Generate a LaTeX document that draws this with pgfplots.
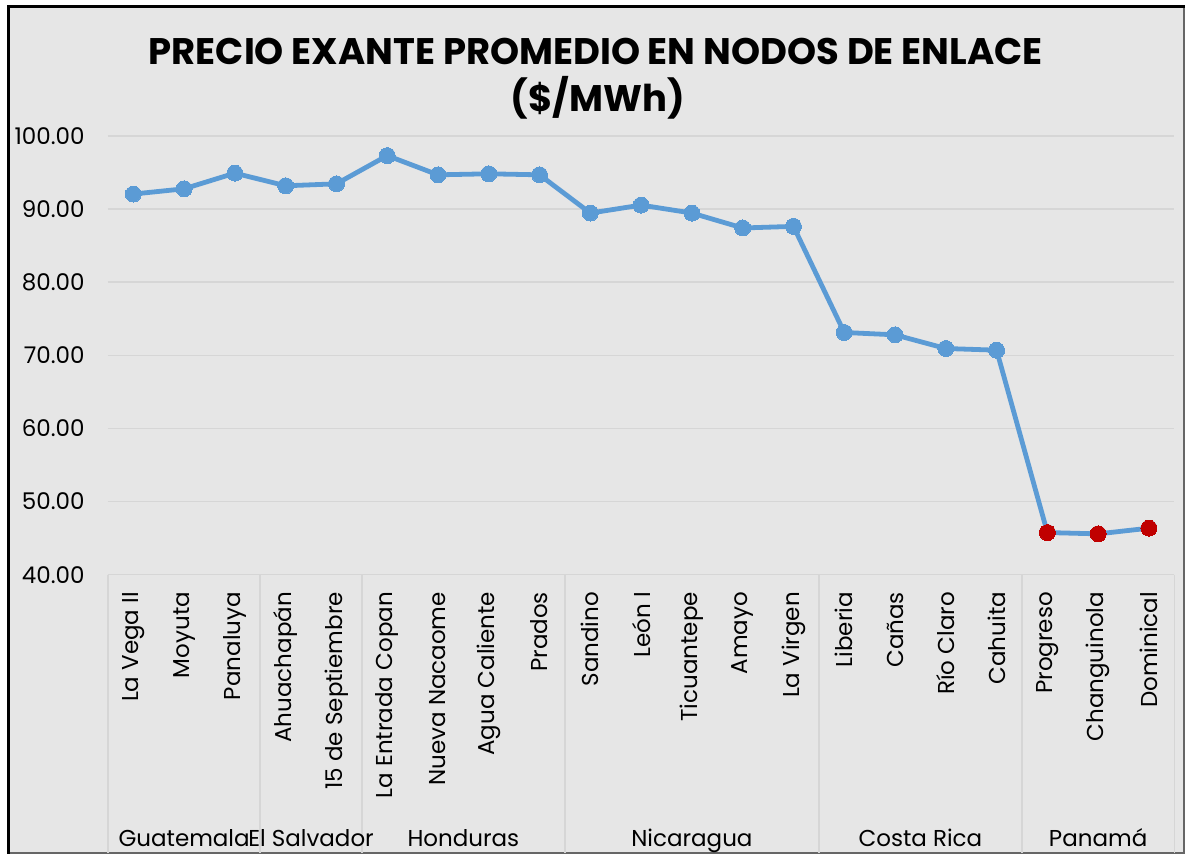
\documentclass[border=0pt]{standalone}
\usepackage{pgfplots}
\usepackage{fontspec}
\setmainfont{Poppins}
\pgfplotsset{compat=1.18}
\definecolor{bgcol}{HTML}{E6E6E6}
\definecolor{gridcol}{HTML}{D6D6D6}
\definecolor{lineblue}{HTML}{5B9BD5}
\definecolor{ptred}{HTML}{C00000}
\begin{document}
\begin{tikzpicture}
% chart area (1px = 0.5pt, origin top-left)
\fill[white] (0,0) rectangle (593pt,-427pt);
\fill[bgcol] (4.25pt,-3.25pt) rectangle (592.5pt,-426.7pt);
\draw[gray!80!black,line width=0.6pt] (592.3pt,-3.25pt) -- (592.3pt,-426.7pt) -- (4.25pt,-426.7pt);
\draw[black,line width=1.5pt] (4.25pt,-427pt) -- (4.25pt,-3.25pt) -- (592.6pt,-3.25pt);
\node[anchor=base,font=\fontsize{18.5}{22}\selectfont\bfseries] at (298pt,-32.15pt) {PRECIO EXANTE PROMEDIO EN NODOS DE ENLACE};
\node[anchor=base,font=\fontsize{18.5}{22}\selectfont\bfseries] at (299pt,-55.85pt) {(\$/MWh)};
\begin{axis}[
  at={(54pt,-287.5pt)},anchor=south west,
  scale only axis,width=533.5pt,height=219.5pt,
  xmin=-0.5,xmax=20.5,ymin=40,ymax=100,
  clip=false,
  axis line style={draw=none},
  major tick length=0pt,
  ymajorgrids,grid style={gridcol,line width=0.8pt},
  ytick={40,50,...,100},
  /pgf/number format/fixed,
  /pgf/number format/fixed zerofill,
  /pgf/number format/precision=2,
  /pgf/number format/assume math mode=true,
  yticklabel shift=11.5pt,
  xtick={0,...,20},
  xticklabels={La Vega II,Moyuta,Panaluya,Ahuachapán,15 de Septiembre,La Entrada Copan,Nueva Nacaome,Agua Caliente,Prados,Sandino,León I,Ticuantepe,Amayo,La Virgen,Liberia,Cañas,Río Claro,Cahuita,Progreso,Changuinola,Dominical},
  xticklabel style={rotate=90,anchor=east,inner sep=0pt},
  xticklabel shift=8.5pt,
  tick label style={font=\fontsize{11.5}{13}\selectfont},
  y tick label style={inner sep=0pt},
]
\addplot[lineblue,line width=2.4pt,mark=*,mark size=4pt,mark options={fill=lineblue,draw=lineblue,line width=0pt}] coordinates {
(0,92.05) (1,92.77) (2,94.91) (3,93.18) (4,93.45) (5,97.31) (6,94.68) (7,94.82) (8,94.68)
(9,89.45) (10,90.54) (11,89.45) (12,87.41) (13,87.63)
(14,73.12) (15,72.80) (16,70.93) (17,70.70)
(18,45.76) (19,45.58) (20,46.36)
};
\addplot[only marks,mark=*,mark size=4pt,mark options={fill=ptred,draw=ptred,line width=0pt}] coordinates {
(18,45.76) (19,45.58) (20,46.36)
};
% group separators and country labels
\pgfplotsinvokeforeach{-0.5,2.5,4.5,8.5,13.5,17.5,20.5}{
  \draw[gridcol,line width=0.8pt] (axis cs:#1,40) -- ++(0pt,-139pt);
}
\draw[gridcol,line width=0.8pt] (axis cs:-0.5,40) -- (axis cs:20.5,40);
\tikzset{grp/.style={anchor=base,inner sep=0pt,font=\fontsize{11.5}{13}\selectfont}}
\node[grp] at ([yshift=-136pt]axis cs:1,40) {Guatemala};
\node[grp] at ([yshift=-136pt]axis cs:3.5,40) {El Salvador};
\node[grp] at ([yshift=-136pt]axis cs:6.5,40) {Honduras};
\node[grp] at ([yshift=-136pt]axis cs:11,40) {Nicaragua};
\node[grp] at ([yshift=-136pt]axis cs:15.5,40) {Costa Rica};
\node[grp] at ([yshift=-136pt]axis cs:19,40) {Panamá};
\end{axis}
\end{tikzpicture}
\end{document}
